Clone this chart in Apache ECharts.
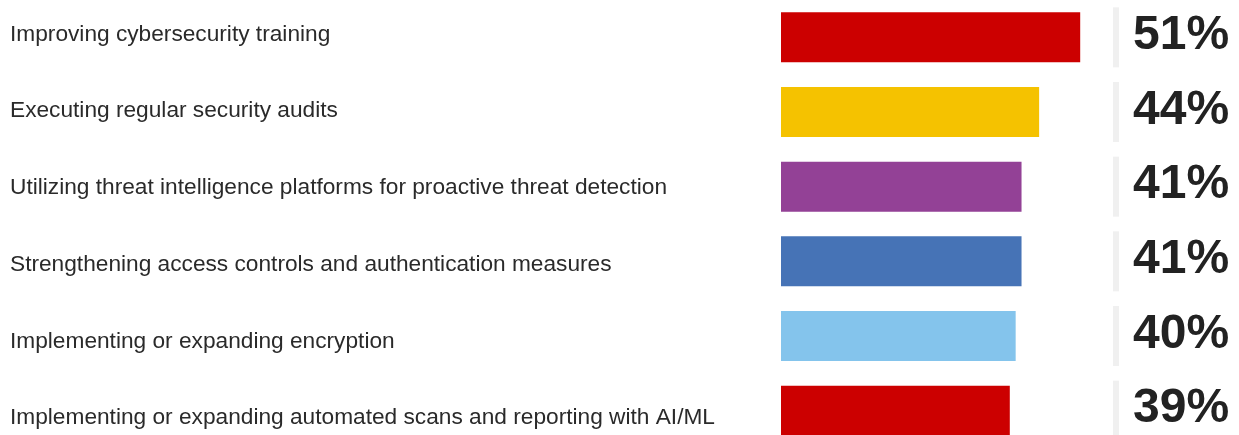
<!DOCTYPE html>
<html>
<head>
<meta charset="utf-8">
<script src="https://cdn.jsdelivr.net/npm/echarts@6/dist/echarts.min.js"></script>
<style>
  html, body { margin: 0; padding: 0; background: #ffffff; }
  #chart { width: 1239px; height: 435px; }
</style>
</head>
<body>
<div id="chart"></div>
<script>
// Security priorities, share of respondents (%)
const categories = [
  'Improving cybersecurity training',
  'Executing regular security audits',
  'Utilizing threat intelligence platforms for proactive threat detection',
  'Strengthening access controls and authentication measures',
  'Implementing or expanding encryption',
  'Implementing or expanding automated scans and reporting with AI/ML'
];
const values = [51, 44, 41, 41, 40, 39];
const barColors = ['#cc0000', '#f5c200', '#934196', '#4673b6', '#84c4ec', '#cc0000'];

const valueLabels = values.map(v => v + '%');

const chart = echarts.init(document.getElementById('chart'), null, { renderer: 'canvas' });

chart.setOption({
  animation: false,
  backgroundColor: '#ffffff',
  grid: [
    // bars and value column
    { left: 781, top: 0, width: 352, height: 448, containLabel: false, outerBoundsMode: 'none' },
    // category text column (slightly wider row spacing than the bars)
    { left: 781, top: -3.85, width: 352, height: 460.2, containLabel: false, outerBoundsMode: 'none' }
  ],
  xAxis: [
    { type: 'value', gridIndex: 0, min: 0, max: 60, show: false },
    { type: 'value', gridIndex: 1, min: 0, max: 60, show: false }
  ],
  yAxis: [
    {
      type: 'category',
      gridIndex: 0,
      inverse: true,
      data: categories,
      position: 'left',
      axisLine: { show: false },
      axisTick: { show: false },
      splitLine: { show: false },
      axisLabel: { show: false }
    },
    {
      type: 'category',
      gridIndex: 0,
      inverse: true,
      data: valueLabels,
      position: 'right',
      offset: -20,
      axisLine: { show: false },
      axisTick: { show: false },
      splitLine: { show: false },
      axisLabel: {
        align: 'left',
        margin: 0,
        formatter: v => '{sep|}{gap|}{v|' + v + '}',
        rich: {
          sep: { width: 6, height: 60, backgroundColor: '#f0f0f0' },
          gap: { width: 14 },
          v: {
            fontSize: 48,
            fontWeight: 'bold',
            color: '#222222',
            fontFamily: 'Liberation Sans',
            lineHeight: 60,
            verticalAlign: 'middle',
            padding: [0, 0, 3, 0]
          }
        }
      }
    },
    {
      type: 'category',
      gridIndex: 1,
      inverse: true,
      data: categories,
      position: 'left',
      axisLine: { show: false },
      axisTick: { show: false },
      splitLine: { show: false },
      axisLabel: {
        align: 'left',
        margin: 771,
        fontSize: 22.7,
        color: '#2a2a2a',
        fontFamily: 'Liberation Sans'
      }
    }
  ],
  series: [
    {
      type: 'bar',
      xAxisIndex: 0,
      yAxisIndex: 0,
      barWidth: 50,
      data: values.map((v, i) => ({ value: v, itemStyle: { color: barColors[i] } })),
      label: { show: false }
    }
  ]
});
</script>
</body>
</html>
